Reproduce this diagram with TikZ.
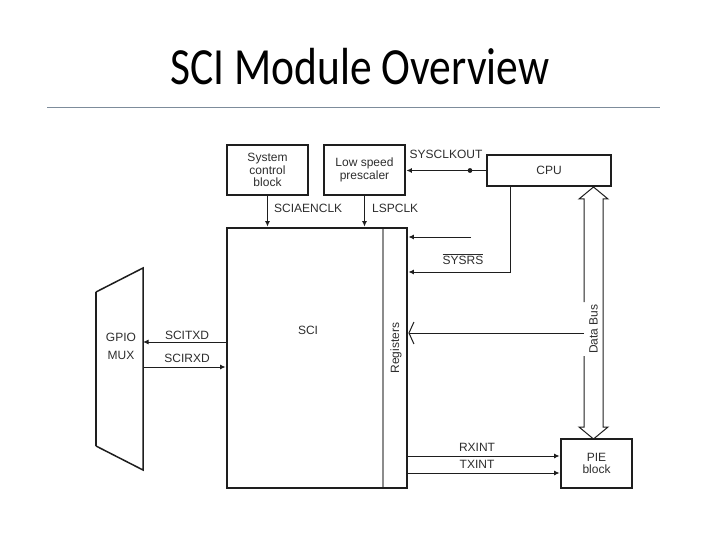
\documentclass[tikz,border=0pt]{standalone}
\usepackage{fontspec}
\setmainfont{Liberation Sans}
\newfontfamily\titlefont{Carlito}
\usetikzlibrary{arrows.meta}
\definecolor{ink}{RGB}{30,30,30}
\definecolor{txt}{RGB}{45,45,45}
\definecolor{rulec}{RGB}{125,140,155}
\begin{document}
\begin{tikzpicture}[x=1pt,y=-1pt,
  blk/.style={draw=ink, line width=2.8pt, inner sep=0pt, align=center, text=txt,
              font=\fontsize{12}{12.5}\selectfont},
  conn/.style={draw=ink, line width=1pt},
  tip/.style={-{Latex[length=5.5pt,width=5pt]}},
  lbl/.style={text=txt, font=\fontsize{12}{12.5}\selectfont, inner sep=0pt}]
\useasboundingbox (0,0) rectangle (720,540);

% title and rule
\node[anchor=base, inner sep=0pt] (title) at (360,85)
  {\scalebox{1}[1.2]{\titlefont\fontsize{43.5}{44}\selectfont SCI Module Overview}};
\draw[rulec, line width=1pt] (47,108) -- (660,108);

% blocks
\node[blk, minimum width=81pt, minimum height=50pt] (sys) at (267.5,170) {System\\control\\block};
\node[blk, minimum width=81pt, minimum height=50pt] (low) at (364.5,170) {Low speed\\prescaler};
\node[blk, minimum width=124pt, minimum height=31pt] (cpu) at (549,170.5) {CPU};
\node[blk, minimum width=180pt, minimum height=260pt] (sci) at (317,358) {};
\node[blk, minimum width=71pt, minimum height=49pt] (pie) at (596.5,463.5) {PIE\\block};
\node[lbl] (scitxt) at (308,330) {SCI};

% registers column
\draw[black!45, line width=1.2pt] (383,229) -- (383,487);
\node[lbl, rotate=90] (reg) at (396,348) {Registers};

% GPIO mux
\coordinate (m1) at (96,292);
\coordinate (m2) at (143,268);
\coordinate (m3) at (143,470);
\coordinate (m4) at (96,446);
\draw[ink, line width=1.5pt, line join=miter] (m1) -- (m2) -- (m3) -- (m4);
\draw[ink, line width=2.8pt] (m1) -- (m4);
\node[lbl, align=center, font=\fontsize{12}{18}\selectfont] (mux) at (121,346) {GPIO\\MUX};

% clock inputs
\draw[conn, tip] (sys.south) -- (sys.south |- sci.north);
\draw[conn, tip] (low.south) -- (low.south |- sci.north);
\node[lbl, anchor=west] (aen) at (274,208) {SCIAENCLK};
\node[lbl, anchor=west] (lsp) at (372,208) {LSPCLK};

% SYSCLKOUT
\node[circle, fill=ink, inner sep=1.7pt] (dot) at (470,170.5) {};
\draw[conn, tip] (cpu.west) -- (low.east |- cpu.west);
\node[lbl] (sclk) at (446,154) {SYSCLKOUT};

% short input and SYSRS
\coordinate (n1) at (471,237);
\draw[conn, tip] (n1) -- (sci.east |- n1);
\coordinate (rsx) at (510,272);
\draw[conn, tip] (cpu.south -| rsx) -- (rsx) -- (sci.east |- rsx);
\node[lbl] (sysrs) at (463,259) {$\overline{\hbox{SYSRS}}$};

% data bus
\coordinate (bt) at (593.5,187);
\coordinate (bb) at (593.5,439);
\draw[conn, line join=miter] (584,356) -- (584,427) -- (579,427) -- (bb) -- (608,427) -- (603,427) -- (603,199)
  -- (608,199) -- (bt) -- (579,199) -- (584,199) -- (584,302);
\node[lbl, rotate=90] (dbus) at (593.5,329) {Data Bus};

% registers link
\coordinate (bl) at (584,333);
\draw[conn, -{Straight Barb[length=5pt,width=22pt]}] (bl) -- (sci.east |- bl);

% interrupts
\coordinate (rx) at (500,456);
\coordinate (tx) at (500,473);
\draw[conn, tip] (sci.east |- rx) -- (pie.west |- rx);
\draw[conn, tip] (sci.east |- tx) -- (pie.west |- tx);
\node[lbl] (rxl) at (477,447) {RXINT};
\node[lbl] (txl) at (477,464) {TXINT};

% serial lines
\coordinate (mr) at (143,0);
\coordinate (txd) at (0,342);
\coordinate (rxd) at (0,367);
\draw[conn, tip] (sci.west |- txd) -- (mr |- txd);
\draw[conn, tip] (mr |- rxd) -- (sci.west |- rxd);
\node[lbl] (txdl) at (187,335) {SCITXD};
\node[lbl] (rxdl) at (187,358) {SCIRXD};
\end{tikzpicture}
\end{document}
